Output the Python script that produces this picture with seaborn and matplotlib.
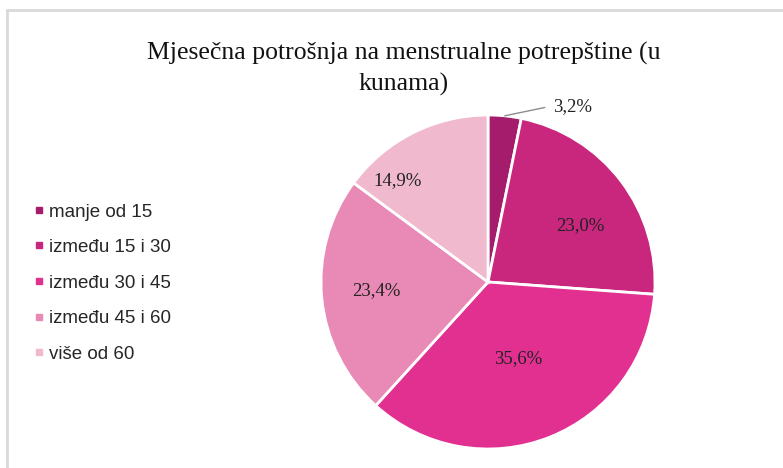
import matplotlib
matplotlib.use("Agg")
import matplotlib.pyplot as plt
import seaborn as sns
import numpy as np
from matplotlib.lines import Line2D

sns.set_theme(style="white")
plt.rcParams['font.family'] = ['Liberation Sans', 'DejaVu Sans']

categories = ["manje od 15", "između 15 i 30", "između 30 i 45", "između 45 i 60", "više od 60"]
values = [3.2, 23.0, 35.6, 23.4, 14.9]
labels = ["3,2%", "23,0%", "35,6%", "23,4%", "14,9%"]
colors = ["#A51C6C", "#C8277D", "#E23091", "#E88AB5", "#F0B9CE"]

# label positions (in units of pie radius)
label_pos = [(0.37, 1.05), (0.55, 0.34), (0.18, -0.46), (-0.67, -0.05), (-0.54, 0.61)]

W, H = 783, 468
fig = plt.figure(figsize=(W / 100, H / 100), dpi=100)
fig.patch.set_facecolor("white")

R = 167
cx, cy = 488, 468 - 282
lim = 1.1
ax = fig.add_axes([(cx - lim * R) / W, (cy - lim * R) / H, 2 * lim * R / W, 2 * lim * R / H])
wedges, _ = ax.pie(values, colors=colors, startangle=90, counterclock=False,
                   wedgeprops=dict(edgecolor="white", linewidth=2), radius=1)
ax.set_xlim(-lim, lim)
ax.set_ylim(-lim, lim)
ax.set_aspect("equal")
ax.axis("off")

for i, (lab, (px, py)) in enumerate(zip(labels, label_pos)):
    ha = "left" if i == 0 else "center"
    ax.text(px if i else px + 0.02, py, lab, ha=ha, va="center", fontsize=13.5,
            family=["Liberation Serif", "DejaVu Serif"], color="#222222")

# leader line for the small slice
mid = np.deg2rad(90 - values[0] / sum(values) * 360 / 2)
ax.plot([np.cos(mid), 0.34], [np.sin(mid), 1.045], color="#8c8c8c", lw=1)

fig.text(404 / W, 1 - 69 / H, "Mjesečna potrošnja na menstrualne potrepštine (u\nkunama)",
         ha="center", va="center", fontsize=18.5, linespacing=1.45,
         family=["Liberation Serif", "DejaVu Serif"], color="#111111")

handles = [Line2D([], [], marker="s", linestyle="none", markersize=5,
                  markerfacecolor=c, markeredgecolor=c) for c in colors]
fig.legend(handles, categories, loc="center left", bbox_to_anchor=(30 / W, 1 - 283 / H),
           frameon=False, fontsize=13.5, handletextpad=0.0, labelspacing=0.98,
           handlelength=1.0, borderpad=0, borderaxespad=0)

# outer frame lines (top and left only)
fig.add_artist(Line2D([7.5 / W, 1], [1 - 9.5 / H, 1 - 9.5 / H], transform=fig.transFigure,
                      color="#d9d9d9", lw=2))
fig.add_artist(Line2D([7.5 / W, 7.5 / W], [0, 1 - 9.5 / H], transform=fig.transFigure,
                      color="#d9d9d9", lw=2))

fig.savefig("out.png", dpi=100, facecolor="white")
